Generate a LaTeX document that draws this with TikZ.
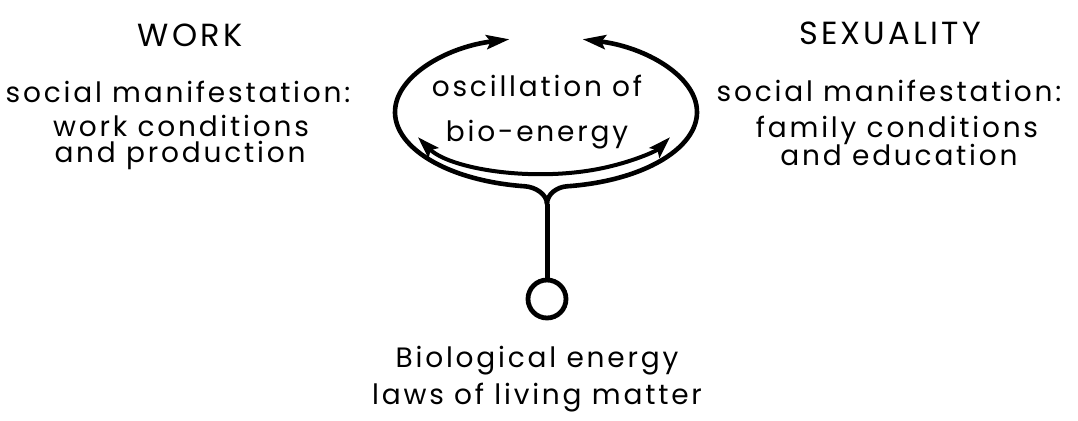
\documentclass[tikz,border=0pt]{standalone}
\usepackage{fontspec}
\setmainfont{Poppins}[LetterSpace=10]
\usetikzlibrary{arrows.meta}
\begin{document}
\begin{tikzpicture}[x=1pt,y=1pt,
  txt/.style={inner sep=0pt,anchor=base,font=\fontsize{28}{32}\selectfont},
  caps/.style={inner sep=0pt,anchor=base,font=\fontsize{32}{36}\selectfont},
  loopline/.style={line width=4.6pt},
  tip/.style={-{Stealth[length=23pt,width=14pt,inset=4pt]}},
  dtip/.style={{Stealth[length=22pt,width=14pt,inset=4pt]}-{Stealth[length=22pt,width=14pt,inset=4pt]}}
]
\useasboundingbox (0,0) rectangle (1078,420);
% texts left
\node[caps] (work) at (190,373) {WORK};
\node[txt] (l1) at (178,317) {social manifestation:};
\node[txt] (l2) at (181,283) {work conditions};
\node[txt] (l3) at (180,257) {and production};
% texts right
\node[caps] (sex) at (890,375) {SEXUALITY};
\node[txt] (r1) at (889,318) {social manifestation:};
\node[txt] (r2) at (897,282) {family conditions};
\node[txt] (r3) at (899,254) {and education};
% centre texts
\node[txt] (c1) at (537,323) {oscillation of};
\node[txt] (c2) at (537,278) {bio-energy};
\node[txt] (b1) at (537,52) {Biological energy};
\node[txt] (b2) at (537,16) {laws of living matter};
% source circle and stem
\node[circle,draw,line width=4.8pt,minimum size=38pt,inner sep=0pt] (src) at (547,121) {};
\coordinate (fork) at (547,216);
\coordinate (bl) at (525,233.7);
\coordinate (br) at (567,233.7);
\draw[line width=5pt] (src.north) -- (fork);
% outer loop, left and right branches
\draw[loopline,tip] (fork) .. controls (547,226) and (535,233) .. (bl)
   arc[start angle=262,end angle=104,x radius=151,y radius=75];
\draw[loopline,tip] (fork) .. controls (547,226) and (557,233) .. (br)
   arc[start angle=-82,end angle=76,x radius=151,y radius=75];
% inner double arrow
\coordinate (il) at (417.9,282.8);
\draw[line width=4pt,dtip] (il) arc[start angle=204,end angle=336,x radius=138,y radius=62];
\end{tikzpicture}
\end{document}
